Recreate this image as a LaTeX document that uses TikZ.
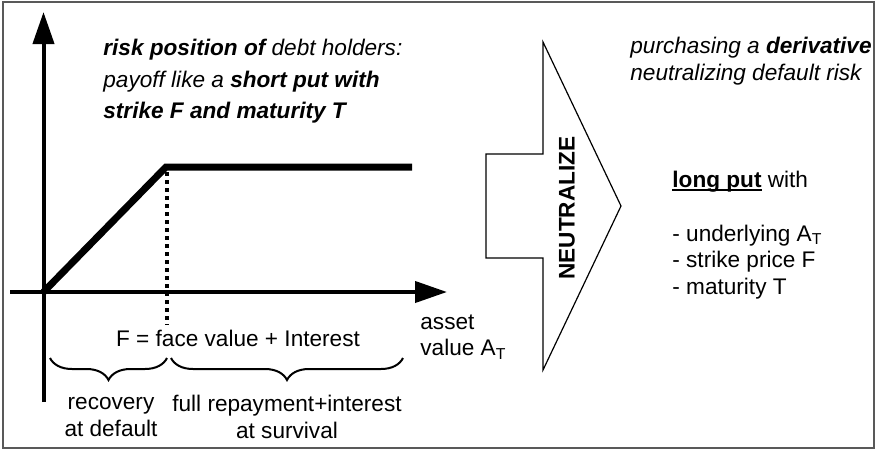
\documentclass[tikz,border=0pt]{standalone}
\usepackage{fontspec}
\setmainfont{Liberation Sans}
\usetikzlibrary{arrows.meta,decorations.pathreplacing}

\newcommand\ulbold[1]{\setbox0\hbox{\textbf{#1}}\rlap{\rule[-1.5pt]{\wd0}{0.9pt}}\box0\relax}

\tikzset{
  txt/.style={inner sep=0pt, font=\fontsize{11.3}{13.3}\selectfont},
  axis/.style={line width=2pt, -{Triangle[length=16pt,width=10.5pt]}},
  payoff/.style={line width=3.5pt},
  brc/.style={decorate, decoration={brace, mirror, amplitude=11pt}, line width=1pt},
}

\begin{document}
\begin{tikzpicture}[x=0.5pt,y=-0.5pt]
\useasboundingbox (0,0) rectangle (876,450);
\draw[gray!70!black, line width=0.6pt] (3,2) rectangle (874,448);

% axes and payoff of the debt
\coordinate (o) at (43.5,292);
\coordinate (ytop) at (43.5,12);
\coordinate (ybot) at (43.5,402);
\coordinate (xleft) at (10,292);
\coordinate (xtip) at (447,292);
\coordinate (k) at (166,167);
\coordinate (flat) at (412,167);
\coordinate (kb) at (167,325);

\draw[axis] (ybot) to (ytop);
\draw[axis] (xleft) to (xtip);
\draw[payoff] (o) to (k) to (flat);
\draw[line width=2pt, dash pattern=on 2pt off 2pt] (167,172) to (kb);

\node[txt, anchor=north west, align=left, font=\fontsize{11.3}{15.75}\selectfont\itshape] (risk) at (103,39)
  {\textbf{risk position of} debt holders:\\payoff like a \textbf{short put with}\\\textbf{strike F and maturity T}};

\node[txt] (face) at (238,338) {F = face value + Interest};

% braces under the axis
\coordinate (b1) at (50,358);
\coordinate (b2) at (167,358);
\coordinate (b3) at (171,358);
\coordinate (b4) at (403,358);
\draw[brc] (b1) to (b2);
\draw[brc] (b3) to (b4);

\node[txt, align=center] (rec) at (111,417) {recovery\\at default};
\node[txt, align=center] (full) at (287,417) {full repayment+interest\\at survival};
\node[txt, anchor=west, align=left] (asset) at (420,337) {asset\\value A\textsubscript{T}};

% the big arrow
\draw[line width=0.6pt] (486,154) -- (543,154) -- (543,42) -- (621,206)
  -- (543,370) -- (543,258) -- (486,258) -- cycle;
\node[txt, rotate=90, font=\fontsize{11.3}{13.3}\selectfont\bfseries] (neut) at (567,208) {NEUTRALIZE};

\node[txt, anchor=west, align=left, font=\fontsize{11.3}{13.3}\selectfont\itshape] (purch) at (630,61)
  {purchasing a \textbf{derivative}\\neutralizing default risk};
\node[txt, anchor=west] (long) at (672,182) {\ulbold{long put} with};
\node[txt, anchor=west, align=left] (list) at (672,262)
  {- underlying A\textsubscript{T}\\- strike price F\\- maturity T};
\end{tikzpicture}
\end{document}
